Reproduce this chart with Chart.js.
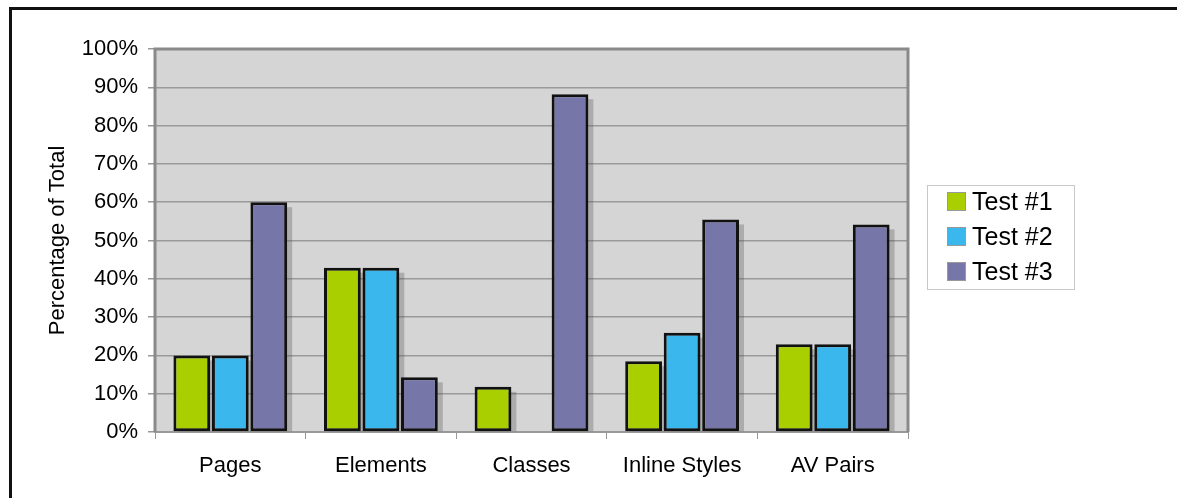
<!DOCTYPE html>
<html>
<head>
<meta charset="utf-8">
<script src="https://cdn.jsdelivr.net/npm/chart.js@4/dist/chart.umd.min.js"></script>
<style>
    html, body { margin: 0; padding: 0; background: #fff; }
    #wrap { position: relative; width: 1177px; height: 498px; overflow: hidden; }
    #frame {
        position: absolute; left: 9px; top: 7px; right: -10px; bottom: -10px;
        border-top: 3px solid #111; border-left: 3px solid #111;
    }
    canvas { position: absolute; left: 0; top: 0; }
</style>
</head>
<body>
<div id="wrap">
    <div id="frame"></div>
    <canvas id="chart" width="1177" height="498"></canvas>
</div>
<script>
const categories = ['Pages', 'Elements', 'Classes', 'Inline Styles', 'AV Pairs'];
const test1 = [20, 42.9, 11.8, 18.5, 22.9];
const test2 = [20, 42.9, null, 25.9, 22.9];
const test3 = [60, 14.3, 88.2, 55.5, 54.2];
const seriesNames = ['Test #1', 'Test #2', 'Test #3'];
const seriesColors = ['#a9cf00', '#3ab7ec', '#7676a9'];
const yTicks = [0, 10, 20, 30, 40, 50, 60, 70, 80, 90, 100];

const FONT = "'Liberation Sans', Arial, sans-serif";

// grey plot background with a darker frame
const plotBackground = {
    id: 'plotBackground',
    beforeDraw(chart) {
        const { ctx, chartArea: a } = chart;
        ctx.save();
        ctx.fillStyle = '#d5d5d5';
        ctx.fillRect(a.left, a.top, a.right - a.left, a.bottom - a.top);
        ctx.restore();
    },
    afterDraw(chart) {
        const { ctx, chartArea: a } = chart;
        ctx.save();
        ctx.strokeStyle = '#8a8a8a';
        ctx.lineWidth = 3;
        ctx.beginPath();
        ctx.moveTo(a.left, a.bottom);
        ctx.lineTo(a.left, a.top);
        ctx.lineTo(a.right, a.top);
        ctx.lineTo(a.right, a.bottom);
        ctx.stroke();
        ctx.restore();
    }
};

// drop shadow behind each bar
const barShadow = {
    id: 'barShadow',
    beforeDatasetsDraw(chart) {
        const { ctx, chartArea: a } = chart;
        ctx.save();
        ctx.beginPath();
        ctx.rect(a.left, a.top, a.right - a.left, a.bottom - a.top);
        ctx.clip();
        ctx.fillStyle = 'rgba(80,80,80,0.3)';
        chart.data.datasets.forEach((ds, i) => {
            chart.getDatasetMeta(i).data.forEach((bar, j) => {
                if (ds.data[j] == null) return;
                const p = bar.getProps(['x', 'y', 'base', 'width'], true);
                ctx.fillRect(p.x - p.width / 2 + 5, p.y + 5, p.width, p.base - p.y - 5);
            });
        });
        ctx.restore();
    }
};

// boxed legend to the right of the plot
const boxLegend = {
    id: 'boxLegend',
    afterDraw(chart) {
        const { ctx, chartArea: a } = chart;
        const left = a.right + 19, top = 185, w = 147, h = 104;
        ctx.save();
        ctx.fillStyle = '#fff';
        ctx.fillRect(left, top, w, h);
        ctx.strokeStyle = '#c8c8c8';
        ctx.lineWidth = 1;
        ctx.strokeRect(left + 0.5, top + 0.5, w, h);
        ctx.font = '25px ' + FONT;
        ctx.textBaseline = 'middle';
        chart.data.datasets.forEach((ds, i) => {
            const cy = top + 17 + i * 35;
            ctx.fillStyle = ds.backgroundColor;
            ctx.fillRect(left + 20, cy - 10, 19, 19);
            ctx.strokeStyle = '#999';
            ctx.strokeRect(left + 20.5, cy - 9.5, 18, 18);
            ctx.fillStyle = '#000';
            ctx.fillText(ds.label, left + 45, cy + 1);
        });
        ctx.restore();
    }
};

const datasets = [test1, test2, test3].map((values, i) => ({
    label: seriesNames[i],
    data: values,
    backgroundColor: seriesColors[i],
    borderColor: '#111',
    borderWidth: 3,
    borderSkipped: false,
    categoryPercentage: 0.767,
    barPercentage: 0.955
}));

new Chart(document.getElementById('chart'), {
    type: 'bar',
    data: { labels: categories, datasets: datasets },
    options: {
        responsive: false,
        animation: false,
        layout: { padding: { top: 49, right: 269, left: 0, bottom: 0 } },
        plugins: {
            legend: { display: false },
            tooltip: { enabled: false }
        },
        scales: {
            x: {
                grid: {
                    drawOnChartArea: false,
                    drawTicks: true,
                    tickLength: 7,
                    tickColor: '#999',
                    offset: true
                },
                border: { color: '#999', width: 2 },
                ticks: {
                    color: '#000',
                    font: { family: FONT, size: 22 },
                    padding: 14,
                    maxRotation: 0
                },
                afterFit(scale) { scale.height = 66; }
            },
            y: {
                min: 0,
                max: 100,
                afterBuildTicks(scale) { scale.ticks = yTicks.map(v => ({ value: v })); },
                grid: {
                    color: '#9a9a9a',
                    lineWidth: 1.5,
                    tickLength: 7,
                    tickColor: '#999'
                },
                border: { display: false },
                ticks: {
                    color: '#000',
                    font: { family: FONT, size: 22 },
                    padding: 10,
                    callback: v => v + '%'
                },
                title: {
                    display: true,
                    text: 'Percentage of Total',
                    color: '#000',
                    font: { family: FONT, size: 22 },
                    padding: { top: 45, bottom: 0 }
                },
                afterFit(scale) { scale.width = 155; }
            }
        }
    },
    plugins: [plotBackground, barShadow, boxLegend]
});
</script>
</body>
</html>
